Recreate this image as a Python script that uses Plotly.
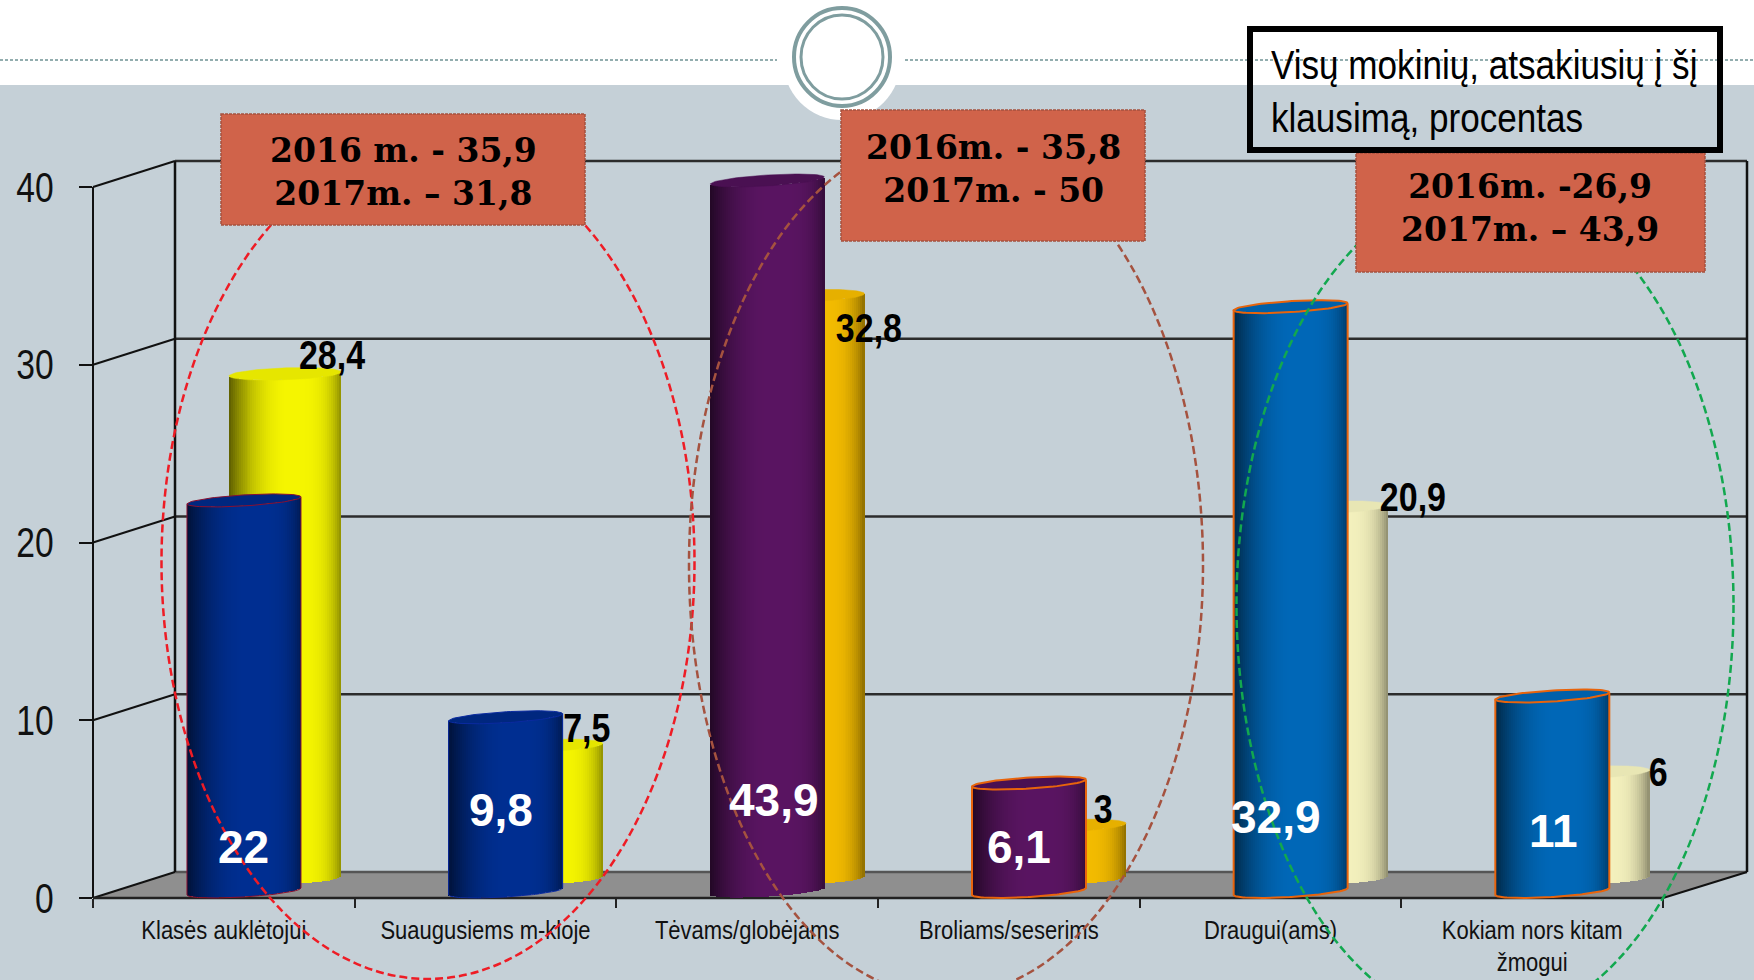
import numpy as np
import plotly.graph_objects as go

# ---- data ----
CATEGORIES = ["Klasės auklėtojui", "Suaugusiems m-kloje", "Tėvams/globėjams",
              "Broliams/seserims", "Draugui(ams)", "Kokiam nors kitam<br>žmogui"]
SERIES_2017 = [22, 9.8, 43.9, 6.1, 32.9, 11]
SERIES_2016 = [28.4, 7.5, 32.8, 3, 20.9, 6]
Y_TICKS = [0, 10, 20, 30, 40]
AXIS_MAX = 40

# ---- style ----
W, H = 1754, 980
X0, X1, Y0, Y40 = 93, 1663, 898, 187
PX_PER_UNIT = (Y0 - Y40) / AXIS_MAX
PX_PER_CAT = (X1 - X0) / 6
Y_LOW, Y_HIGH = -1.5, 42.0      # room round the axis for the cylinder ends
NARROW = "Arial Narrow, Liberation Sans, sans-serif"
SANS = "Liberation Sans, Arial, sans-serif"
SERIF = "DejaVu Serif, Georgia, serif"
PANEL = "#c5d0d7"

FRONT_COL = ["#002f92", "#002f92", "#5a1562", "#5a1562", "#0068b8", "#0068b8"]
FRONT_CAP = ["#00277f", "#00277f", "#4a1052", "#4a1052", "#0060aa", "#0060aa"]
FRONT_EDGE = ["#8a1030", "#0a2aa0", None, "#e8640c", "#e8640c", "#e8640c"]
FRONT_EDGE_W = [1, 1, 0, 2, 2, 2]
BACK_COL = ["#f6f600", "#f6f600", "#f4bc00", "#f4bc00", "#f4f1bd", "#f4f1bd"]
BACK_CAP = ["#e6e600", "#e6e600", "#e6b000", "#e6b000", "#e8e6b4", "#e8e6b4"]

FRONT_LABEL_PX = [(243, 847), (501, 810), (774, 800), (1019, 847), (1276, 817), (1553, 831)]
BACK_LABEL_PX = [(332, 355), (587, 728), (869, 328), (1103, 809), (1413, 497), (1658, 772)]


def X(p):
    return p / W


def Y(p):
    return 1 - p / H


def rgb(hex_col):
    return [int(hex_col[i:i + 2], 16) for i in (1, 3, 5)]


def shaded(hex_col, u):
    if u < 0.1:
        f = 1 - 0.62 * ((0.1 - u) / 1.1) ** 2.2
    else:
        f = 1 - 0.42 * ((u - 0.1) / 0.9) ** 4
    return "rgb(%d,%d,%d)" % tuple(int(c * f) for c in rgb(hex_col))


def cylinders(values, centre, width_px, b_px, k_px, rise_px, cols, caps, edges, edge_w, xa, ya):
    """One bar trace sliced into a gradient, plus caps and outlines, per series."""
    half = width_px / 2 / PX_PER_CAT
    b, k, rise = b_px / PX_PER_UNIT, k_px / PX_PER_UNIT, rise_px / PX_PER_UNIT
    low = np.hypot(b, k)
    n = 57
    us = (np.arange(n) + 0.5) / n * 2 - 1
    xs, bases, heights, colors = [], [], [], []
    traces = []
    t = np.linspace(0, 2 * np.pi, 90)
    for i, raw in enumerate(values):
        v = min(raw, AXIS_MAX)
        c = i + centre
        top_c = v + low + rise
        bot_c = low + rise
        for u in us:
            arc = k * u - b * np.sqrt(1 - u * u)
            xs.append(c + u * half)
            bases.append(bot_c + arc)
            heights.append(top_c - bot_c)
            colors.append(shaded(cols[i], u))
        rim_x = c + half * np.cos(t)
        rim_y = top_c + k * np.cos(t) + b * np.sin(t)
        traces.append(go.Scatter(x=rim_x, y=rim_y, mode="lines", fill="toself", fillcolor=caps[i],
                                 line=dict(color=edges[i] or caps[i], width=edge_w[i] if edges[i] else 0.5),
                                 hoverinfo="skip", showlegend=False, xaxis=xa, yaxis=ya))
        if edges[i]:
            uu = np.linspace(-1, 1, 60)
            ox = np.concatenate([[c - half], c + uu * half, [c + half]])
            oy = np.concatenate([[top_c - k], bot_c + k * uu - b * np.sqrt(1 - uu * uu), [top_c + k]])
            traces.append(go.Scatter(x=ox, y=oy, mode="lines", line=dict(color=edges[i], width=edge_w[i]),
                                     hoverinfo="skip", showlegend=False, xaxis=xa, yaxis=ya))
    bar = go.Bar(x=xs, y=heights, base=bases, width=2 * half / n * 1.25,
                 marker=dict(color=colors, line=dict(width=0)),
                 hoverinfo="skip", showlegend=False, xaxis=xa, yaxis=ya)
    return [bar] + traces


fig = go.Figure()
for tr in cylinders(SERIES_2016, 0.734, 112, 6, 2, 13, BACK_COL, BACK_CAP, [None] * 6, [0] * 6, "x", "y"):
    fig.add_trace(tr)
for tr in cylinders(SERIES_2017, 0.577, 114, 5.5, 3.5, 0, FRONT_COL, FRONT_CAP, FRONT_EDGE, FRONT_EDGE_W, "x2", "y2"):
    fig.add_trace(tr)

# ---- shapes (chart chrome) ----
BX0, BX1, BY0 = 175, 1747, 872


def line(x0, y0, x1, y1, color="#111", width=2, layer="below", dash=None):
    return dict(type="line", xref="paper", yref="paper", x0=X(x0), y0=Y(y0), x1=X(x1), y1=Y(y1),
                line=dict(color=color, width=width, dash=dash), layer=layer)


def rect(x0, y0, x1, y1, fill, color=None, width=0, layer="below", dash=None):
    return dict(type="rect", xref="paper", yref="paper", x0=X(x0), y0=Y(y0), x1=X(x1), y1=Y(y1),
                fillcolor=fill, line=dict(color=color, width=width, dash=dash), layer=layer)


def oval(cx, cy, rx, ry, fill="rgba(0,0,0,0)", color=None, width=0, layer="below", dash=None):
    return dict(type="circle", xref="paper", yref="paper", x0=X(cx - rx), y0=Y(cy + ry),
                x1=X(cx + rx), y1=Y(cy - ry), fillcolor=fill,
                line=dict(color=color, width=width, dash=dash), layer=layer)


shapes = [rect(0, 85, W, H, PANEL)]
shapes.append(oval(842, 60, 59, 60, fill="white"))
shapes.append(line(0, 60, 777, 60, "#6f9294", 1.5, dash="3px,2px"))
shapes.append(line(905, 60, W, 60, "#6f9294", 1.5, dash="3px,2px"))
shapes.append(oval(842, 57, 48, 49, fill="white", color="#7f9d9f", width=4))
shapes.append(oval(842, 57, 41, 42, fill="white", color="#7f9d9f", width=3))
shapes.append(dict(type="path", xref="paper", yref="paper", layer="below",
                   path="M %f %f L %f %f L %f %f L %f %f Z" % (X(X0), Y(Y0), X(BX0), Y(BY0),
                                                             X(BX1), Y(BY0), X(X1), Y(Y0)),
                   fillcolor="#8f8f8f", line=dict(width=0)))
for v in Y_TICKS:
    by = BY0 - v * PX_PER_UNIT
    fy = Y0 - v * PX_PER_UNIT
    shapes.append(line(X0, fy, BX0, by, "#111", 2))
    shapes.append(line(BX0, by, BX1, by, "#2c2c2c" if v else "#555", 2.5))
shapes.append(line(BX0, BY0, BX0, BY0 - 40 * PX_PER_UNIT, "#111", 2.5))
shapes.append(line(BX1, BY0, BX1, BY0 - 40 * PX_PER_UNIT, "#111", 2.5))
shapes.append(line(X1, Y0, BX1, BY0, "#111", 2))
shapes.append(line(X0, Y0, X0, Y40, "#111", 2))
shapes.append(line(X0, Y0, X1, Y0, "#222", 2.5))
# dashed groups
shapes.append(oval(428, 562, 266.5, 417, color="#ee1c25", width=2.5, layer="above", dash="8px,4px"))
shapes.append(oval(946, 565, 257, 431, color="#a5523f", width=2.5, layer="above", dash="8px,4px"))
shapes.append(oval(1485, 605, 248.5, 420, color="#12a84f", width=2.5, layer="above", dash="8px,4px"))
# call-outs
for bx in [(221, 114, 585, 225), (841, 110, 1145, 241), (1356, 153, 1705, 272)]:
    shapes.append(rect(*bx, "#d0634a", "#a5523f", 1.5, layer="above", dash="3px,1px"))
shapes.append(rect(1250, 29, 1720, 150, "rgba(0,0,0,0)", "#000", 6, layer="above"))

# ---- text ----
annotations = []


def note(px, py, text, size, family, color="#000", bold=False, xanchor="center"):
    annotations.append(dict(xref="paper", yref="paper", x=X(px), y=Y(py), text=f"<b>{text}</b>" if bold else text,
                            showarrow=False, xanchor=xanchor, yanchor="middle", align="center" if xanchor == "center" else "left",
                            font=dict(size=size, family=family, color=color), borderpad=0))


fmt = lambda v: str(v).replace(".", ",")
for v, (px, py) in zip(SERIES_2017, FRONT_LABEL_PX):
    note(px, py, fmt(v), 46, SANS, "#ffffff", True)
for v, (px, py) in zip(SERIES_2016, BACK_LABEL_PX):
    note(px, py, fmt(v), 40, NARROW, "#000", True)
note(403, 172, "2016 m. - 35,9<br>2017m. – 31,8", 33, SERIF, bold=True)
note(993, 169, "2016m. - 35,8<br>2017m. - 50", 33, SERIF, bold=True)
note(1530, 208, "2016m. -26,9<br>2017m. – 43,9", 33, SERIF, bold=True)
note(1270, 91, "Visų mokinių, atsakiusių į šį<br>klausimą, procentas", 41, NARROW, xanchor="left")

y_bottom_px = Y0 - Y_LOW * PX_PER_UNIT
y_top_px = Y0 - Y_HIGH * PX_PER_UNIT

fig.update_layout(
    width=W, height=H, margin=dict(l=0, r=0, t=0, b=0, autoexpand=False),
    paper_bgcolor="white", plot_bgcolor="rgba(0,0,0,0)",
    barmode="overlay", bargap=0, showlegend=False,
    shapes=shapes, annotations=annotations,
    xaxis=dict(domain=[X(X0), X(X1)], range=[0, 6], anchor="free", position=Y(Y0), automargin=False,
               tickmode="array", tickvals=[i + 0.5 for i in range(6)], ticktext=CATEGORIES, ticks="",
               showgrid=False, zeroline=False, showline=False,
               tickfont=dict(family=NARROW, size=25, color="#111"), ticklabelstandoff=15, tickangle=0,
               minor=dict(tickmode="array", tickvals=list(range(7)), ticks="outside", ticklen=9,
                          tickwidth=1.5, tickcolor="#222", showgrid=False)),
    yaxis=dict(domain=[Y(y_bottom_px), Y(y_top_px)], range=[Y_LOW, Y_HIGH], anchor="x", automargin=False,
               tickmode="array", tickvals=Y_TICKS, ticks="outside", ticklen=13, tickwidth=2,
               tickcolor="#111", showgrid=False, zeroline=False, showline=False,
               tickfont=dict(family=NARROW, size=42, color="#111"), ticklabelstandoff=17),
    xaxis2=dict(overlaying="x", matches="x", anchor="y2", visible=False, automargin=False),
    yaxis2=dict(overlaying="y", matches="y", anchor="x2", visible=False, automargin=False),
)

# No condensed face is installed, so the reference's narrow labels are narrowed in place.
SQUEEZE = """
document.body.style.margin='0';document.body.style.overflow='hidden';
(function(){
  var scale={'42':0.80,'25':0.88,'40':0.85,'41':0.856};
  function run(){
    document.querySelectorAll('svg text').forEach(function(t){
      var ff=t.style.fontFamily||'';
      if(ff.indexOf('Arial Narrow')<0)return;
      var s=scale[String(parseFloat(t.style.fontSize))];
      if(!s)return;
      var cur=t.getAttribute('transform')||'';
      if(t.getAttribute('data-sq')===cur&&cur)return;
      var b=t.getBBox(),a=t.getAttribute('text-anchor');
      var cx=a==='end'?b.x+b.width:(a==='start'?b.x:b.x+b.width/2);
      var nt=cur+' translate('+cx+',0) scale('+s+',1) translate('+(-cx)+',0)';
      t.setAttribute('transform',nt);t.setAttribute('data-sq',nt);
    });
  }
  var gd=document.querySelector('.plotly-graph-div');
  if(gd&&gd.on)gd.on('plotly_afterplot',run);
  run();setTimeout(run,50);setTimeout(run,400);
})();
"""
fig.write_html("out.html", post_script=SQUEEZE, config=dict(displayModeBar=False))
